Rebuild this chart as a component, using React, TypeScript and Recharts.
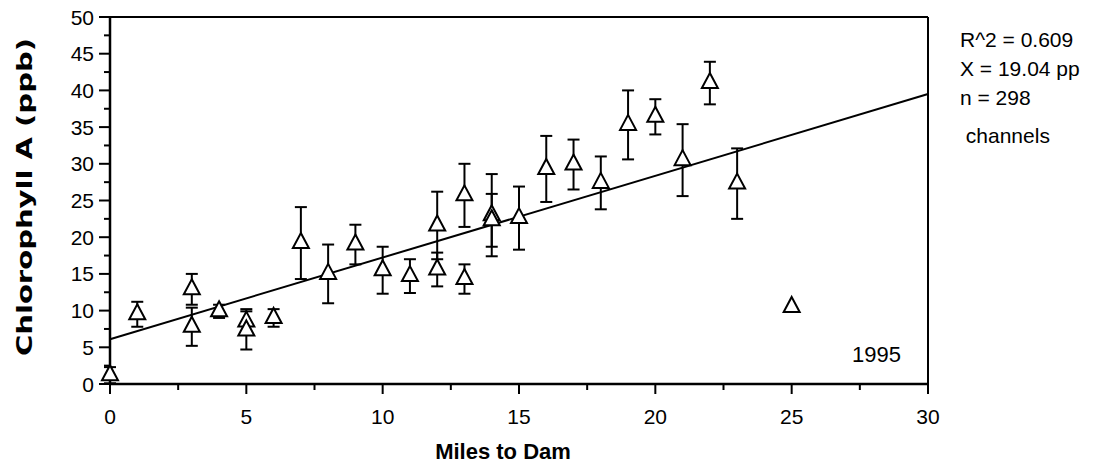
import {
  ComposedChart,
  Scatter,
  ErrorBar,
  XAxis,
  YAxis,
  ReferenceLine,
  Label,
} from "recharts";

/* ── Data ─────────────────────────────────────────────── */
const miles = [0, 1, 3, 3, 4, 5, 5, 6, 7, 8, 9, 10, 11, 12, 12, 13, 13, 14, 14, 15, 16, 17, 18, 19, 20, 21, 22, 23];
const chlMean = [1.2, 9.5, 12.9, 7.8, 9.9, 8.5, 7.3, 9.0, 19.2, 15.0, 19.0, 15.5, 14.7, 21.6, 15.6, 25.7, 14.3, 23.0, 22.3, 22.6, 29.3, 29.9, 27.4, 35.3, 36.4, 30.5, 41.0, 27.3];
const chlErr = [1.1, 1.7, 2.1, 2.6, 0.9, 1.7, 2.6, 1.2, 4.9, 4.0, 2.7, 3.2, 2.3, 4.6, 2.3, 4.3, 2.0, 5.6, 3.6, 4.3, 4.5, 3.4, 3.6, 4.7, 2.4, 4.9, 2.9, 4.8];

// single station without error bar
const outlierMiles = [25];
const outlierChl = [10.5];

// least-squares fit ends
const fitX = [0, 30];
const fitY = [6.1, 39.5];

const xTicks = [0, 2.5, 5, 7.5, 10, 12.5, 15, 17.5, 20, 22.5, 25, 27.5, 30];
const yTicks = [0, 2.5, 5, 7.5, 10, 12.5, 15, 17.5, 20, 22.5, 25, 27.5, 30, 32.5, 35, 37.5, 40, 42.5, 45, 47.5, 50];

const statLines = ["R^2 = 0.609", "X = 19.04 pp", "n = 298", " channels"];
const yearLabel = "1995";

const points = miles.map((m, i) => ({ x: m, y: chlMean[i], err: chlErr[i] }));
const outliers = outlierMiles.map((m, i) => ({ x: m, y: outlierChl[i] }));

const FONT = "Arial, 'Liberation Sans', Helvetica, sans-serif";

/* ── Marks ────────────────────────────────────────────── */
function Triangle(props: any) {
  const { cx, cy } = props;
  if (cx == null || cy == null) return <g />;
  return (
    <path
      d={`M${cx},${cy - 10} L${cx + 8},${cy + 5} L${cx - 8},${cy + 5} Z`}
      fill="#fff"
      stroke="#000"
      strokeWidth={2}
    />
  );
}

function YTick(props: any) {
  const { x, y, payload } = props;
  const major = payload.value % 5 === 0;
  return (
    <g>
      <line x1={x - (major ? 11 : 6)} x2={x} y1={y} y2={y} stroke="#000" strokeWidth={2} />
      {major && (
        <text x={x - 16} y={y} dy={7.5} textAnchor="end" fontSize={21} fontFamily={FONT} fill="#000">
          {payload.value}
        </text>
      )}
    </g>
  );
}

function XTick(props: any) {
  const { x, y, payload } = props;
  const major = payload.value % 5 === 0;
  return (
    <g>
      <line x1={x} x2={x} y1={y} y2={y + (major ? 10 : 6)} stroke="#000" strokeWidth={2} />
      {major && (
        <text x={x} y={y + 40} textAnchor="middle" fontSize={21} fontFamily={FONT} fill="#000">
          {payload.value}
        </text>
      )}
    </g>
  );
}

/* ── Chart ────────────────────────────────────────────── */
export default function App() {
  return (
    <div style={{ position: "absolute", left: 0, top: 0, width: 1094, height: 467, background: "#fff" }}>
      <ComposedChart
        width={1094}
        height={467}
        margin={{ top: 17, right: 166, bottom: 0, left: 0 }}
      >
        <XAxis
          type="number"
          dataKey="x"
          domain={[0, 30]}
          ticks={xTicks}
          interval={0}
          tickSize={0}
          tickMargin={0}
          tickLine={false}
          tick={<XTick />}
          axisLine={{ stroke: "#000", strokeWidth: 2.5 }}
          height={83}
        >
          <Label
            content={() => (
              <text x={503} y={459} textAnchor="middle" fontFamily={FONT} fontWeight="bold" fontSize={22} fill="#000">
                Miles to Dam
              </text>
            )}
          />
        </XAxis>
        <YAxis
          type="number"
          dataKey="y"
          domain={[0, 50]}
          ticks={yTicks}
          interval={0}
          tickSize={0}
          tickMargin={0}
          tickLine={false}
          tick={<YTick />}
          axisLine={{ stroke: "#000", strokeWidth: 2.5 }}
          width={110}
        >
          <Label
            content={() => (
              <text
                x={32}
                y={197}
                transform="rotate(-90, 32, 197)"
                textAnchor="middle"
                fontFamily="'DejaVu Sans', sans-serif"
                fontWeight="bold"
                fontSize={22}
                textLength={318}
                lengthAdjust="spacingAndGlyphs"
                fill="#000"
              >
                Chlorophyll A (ppb)
              </text>
            )}
          />
        </YAxis>

        {/* frame */}
        <ReferenceLine y={50} stroke="#000" strokeWidth={2} />
        <ReferenceLine x={30} stroke="#000" strokeWidth={2} />

        {/* regression line */}
        <ReferenceLine
          segment={[
            { x: fitX[0], y: fitY[0] },
            { x: fitX[1], y: fitY[1] },
          ]}
          stroke="#000"
          strokeWidth={2}
        />

        <Scatter data={points} shape={<Triangle />} isAnimationActive={false}>
          <ErrorBar dataKey="err" direction="y" width={6} stroke="#000" strokeWidth={2} />
        </Scatter>
        <Scatter data={outliers} shape={<Triangle />} isAnimationActive={false} />
      </ComposedChart>

      {/* annotations */}
      <svg width={1094} height={467} style={{ position: "absolute", left: 0, top: 0, pointerEvents: "none" }}>
        <text x={852} y={362} fontFamily={FONT} fontSize={22} fill="#000">
          {yearLabel}
        </text>
        {statLines.map((s, i) => (
          <text
            key={i}
            x={960}
            y={[47, 76, 105, 143][i]}
            fontFamily={FONT}
            fontSize={21}
            fill="#000"
            style={{ whiteSpace: "pre" }}
          >
            {s}
          </text>
        ))}
      </svg>
    </div>
  );
}
